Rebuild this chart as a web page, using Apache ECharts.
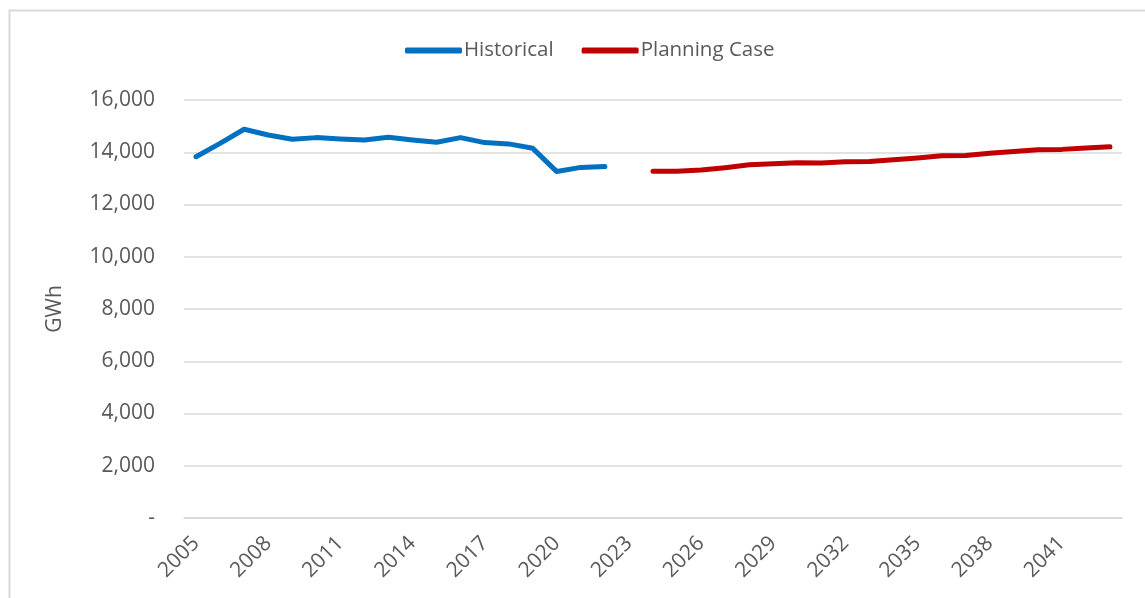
<!DOCTYPE html>
<html>
<head>
<meta charset="utf-8">
<script src="https://cdn.jsdelivr.net/npm/echarts@6/dist/echarts.min.js"></script>
<style>
  html, body { margin: 0; padding: 0; background: #fff; }
  #chart { width: 1145px; height: 598px; }
</style>
</head>
<body>
<div id="chart"></div>
<script>
// years on the x axis
var years = ['2005','2006','2007','2008','2009','2010','2011','2012','2013','2014',
  '2015','2016','2017','2018','2019','2020','2021','2022','2023','2024',
  '2025','2026','2027','2028','2029','2030','2031','2032','2033','2034',
  '2035','2036','2037','2038','2039','2040','2041','2042','2043'];

// historical 2005 - 2022
var historical = [13830, 14340, 14880, 14660, 14500, 14560, 14510, 14470, 14570, 14470,
  14380, 14560, 14370, 14320, 14150, 13260, 13420, 13450];

// planning case 2024 - 2043
var planningStart = '2024';
var planning = [13270, 13270, 13320, 13410, 13520, 13560, 13600, 13590, 13640, 13650,
  13710, 13780, 13870, 13880, 13960, 14030, 14100, 14110, 14160, 14210];

var yTicks = [0, 2000, 4000, 6000, 8000, 10000, 12000, 14000, 16000];

// pad the series out to the full category list
var histData = years.map(function (y, i) { return i < historical.length ? historical[i] : null; });
var off = years.indexOf(planningStart);
var planData = years.map(function (y, i) {
  return (i >= off && i - off < planning.length) ? planning[i - off] : null;
});

var font = '"Open Sans", sans-serif';
var txt = '#595959';

var chart = echarts.init(document.getElementById('chart'));
chart.setOption({
  animation: false,
  graphic: [{
    type: 'rect',
    shape: { x: 9.5, y: 10.5, width: 1150, height: 600 },
    style: { fill: 'none', stroke: '#d9d9d9', lineWidth: 2 },
    silent: true
  }],
  legend: {
    left: 400,
    top: 35,
    itemWidth: 57,
    itemHeight: 6,
    itemGap: 28,
    icon: 'roundRect',
    textStyle: { fontFamily: font, fontSize: 20.5, color: txt, padding: [0, 0, 0, -3] },
    data: ['Historical', 'Planning Case']
  },
  grid: { left: 184, right: 23, top: 100, bottom: 80 },
  xAxis: {
    type: 'category',
    data: years,
    boundaryGap: true,
    axisTick: { show: false },
    axisLine: { lineStyle: { color: '#d9d9d9', width: 1.5 } },
    axisLabel: {
      interval: 2,
      rotate: 45,
      margin: 22,
      fontFamily: font,
      fontSize: 21,
      color: txt
    }
  },
  yAxis: {
    type: 'value',
    min: yTicks[0],
    max: yTicks[yTicks.length - 1],
    interval: 2000,
    name: 'GWh',
    nameLocation: 'middle',
    nameGap: 118,
    nameRotate: 90,
    nameTextStyle: { fontFamily: font, fontSize: 21, color: txt },
    axisLine: { show: false },
    axisTick: { show: false },
    splitLine: { lineStyle: { color: '#d9d9d9', width: 1.5 } },
    axisLabel: {
      margin: 29,
      fontFamily: font,
      fontSize: 21,
      color: txt,
      formatter: function (v) { return v === 0 ? '-' : v.toLocaleString('en-US'); }
    }
  },
  series: [
    {
      name: 'Historical',
      type: 'line',
      data: histData,
      showSymbol: false,
      symbol: 'none',
      itemStyle: { color: '#0070C0' },
      lineStyle: { color: '#0070C0', width: 5, cap: 'round', join: 'round' }
    },
    {
      name: 'Planning Case',
      type: 'line',
      data: planData,
      showSymbol: false,
      symbol: 'none',
      itemStyle: { color: '#C00000' },
      lineStyle: { color: '#C00000', width: 5, cap: 'round', join: 'round' }
    }
  ]
});
</script>
</body>
</html>
